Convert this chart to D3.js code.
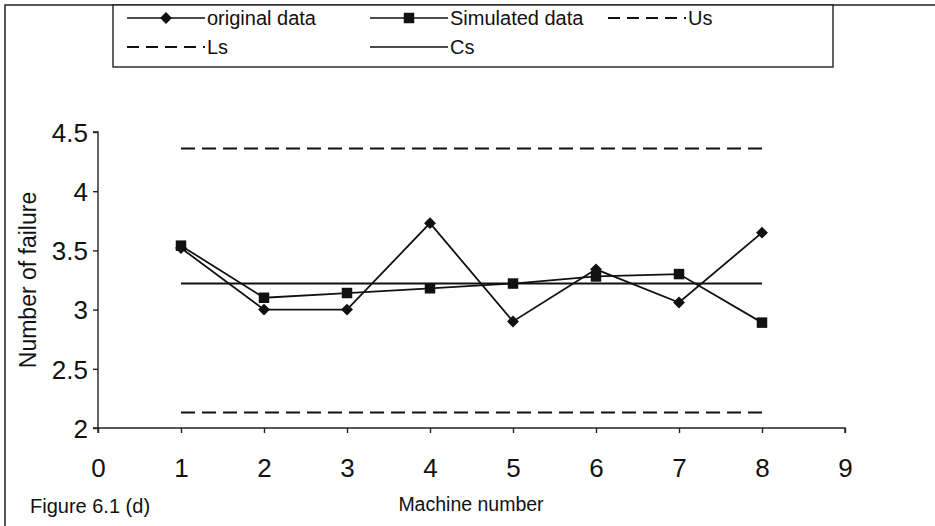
<!DOCTYPE html>
<html>
<head>
<meta charset="utf-8">
<script src="https://cdn.jsdelivr.net/npm/d3@7"></script>
<style>
  body { margin: 0; background: #fff; }
  svg text { font-family: "Liberation Sans", Arial, sans-serif; fill: #111; }
</style>
</head>
<body>
<div id="chart"></div>
<script>
// ======= DATA =======
const machines = [1, 2, 3, 4, 5, 6, 7, 8];
const originalData = [3.52, 3.0, 3.0, 3.73, 2.9, 3.34, 3.06, 3.65];
const simulatedData = [3.54, 3.10, 3.14, 3.18, 3.22, 3.28, 3.30, 2.89];
const usLimit = 4.36;   // upper
const lsLimit = 2.13;   // lower
const csLine = 3.22;    // centre
const xTicks = [0, 1, 2, 3, 4, 5, 6, 7, 8, 9];
const yTicks = [2, 2.5, 3, 3.5, 4, 4.5];

// ======= SVG SETUP =======
const width = 935, height = 526;
const svg = d3.select("#chart").append("svg")
  .attr("width", width).attr("height", height);

const x = d3.scaleLinear().domain([0, 9]).range([98, 845]);
const y = d3.scaleLinear().domain([2, 4.5]).range([428, 132]);

// outer frame (only top and left survive in the scan)
svg.append("path")
  .attr("d", `M5,${height} L5,5 L${width},5`)
  .attr("fill", "none").attr("stroke", "#222").attr("stroke-width", 1.5);

// ======= AXES =======
const xAxis = d3.axisBottom(x).tickValues(xTicks).tickSize(5).tickFormat(d3.format("d"));
const yAxis = d3.axisLeft(y).tickValues(yTicks).tickSize(5).tickFormat(d => d);

const gx = svg.append("g").attr("transform", `translate(0,${y(2)})`).call(xAxis);
gx.select(".domain").attr("d", `M${x(0)},5V0H${x(9)}V5`);
gx.selectAll("text").attr("dy", 0).attr("y", 49).style("font-size", "26px");

const gy = svg.append("g").attr("transform", `translate(${x(0)},0)`).call(yAxis);
gy.select(".domain").attr("d", `M-5,${y(4.5)}H0V${y(2)}H-5`);
gy.selectAll("text").attr("x", -10).attr("dy", "0.36em").style("font-size", "26px");

svg.selectAll(".domain, .tick line").attr("stroke", "#222").attr("stroke-width", 1.4);

// axis titles
svg.append("text")
  .attr("transform", `translate(36,${y(3.25)}) rotate(-90)`)
  .attr("text-anchor", "middle")
  .style("font-size", "23px")
  .text("Number of failure");

svg.append("text")
  .attr("x", 471).attr("y", 511)
  .attr("text-anchor", "middle")
  .style("font-size", "19.5px")
  .text("Machine number");

svg.append("text")
  .attr("x", 30).attr("y", 513)
  .style("font-size", "20px")
  .text("Figure 6.1 (d)");

// ======= LIMIT LINES =======
const hLine = (v, dash) => svg.append("line")
  .attr("x1", x(1)).attr("x2", x(8))
  .attr("y1", y(v)).attr("y2", y(v))
  .attr("stroke", "#111").attr("stroke-width", 2)
  .attr("stroke-dasharray", dash);

hLine(usLimit, "14,7");
hLine(lsLimit, "14,7");
hLine(csLine, null);

// ======= SERIES =======
const line = d3.line().x((d, i) => x(machines[i])).y(d => y(d));

svg.append("path").datum(simulatedData)
  .attr("d", line).attr("fill", "none")
  .attr("stroke", "#111").attr("stroke-width", 1.8);

svg.append("path").datum(originalData)
  .attr("d", line).attr("fill", "none")
  .attr("stroke", "#111").attr("stroke-width", 1.8);

const diamond = d3.symbol().type(d3.symbolDiamond2).size(90);
const square = d3.symbol().type(d3.symbolSquare).size(110);

svg.selectAll(".sim-pt").data(simulatedData).enter()
  .append("path").attr("class", "sim-pt")
  .attr("d", square)
  .attr("transform", (d, i) => `translate(${x(machines[i])},${y(d)})`)
  .attr("fill", "#111");

svg.selectAll(".orig-pt").data(originalData).enter()
  .append("path").attr("class", "orig-pt")
  .attr("d", diamond)
  .attr("transform", (d, i) => `translate(${x(machines[i])},${y(d)})`)
  .attr("fill", "#111");

// ======= LEGEND =======
const legend = svg.append("g");
legend.append("rect")
  .attr("x", 113).attr("y", 5).attr("width", 720).attr("height", 62)
  .attr("fill", "#fff").attr("stroke", "#222").attr("stroke-width", 1.4);

const legendItems = [
  { label: "original data", x: 127, y: 18, marker: "diamond", dash: null },
  { label: "Simulated data", x: 370, y: 18, marker: "square", dash: null },
  { label: "Us", x: 608, y: 18, marker: null, dash: "12,7" },
  { label: "Ls", x: 127, y: 47, marker: null, dash: "12,7" },
  { label: "Cs", x: 370, y: 47, marker: null, dash: null }
];
const legW = 78;

legendItems.forEach(it => {
  legend.append("line")
    .attr("x1", it.x).attr("x2", it.x + legW)
    .attr("y1", it.y).attr("y2", it.y)
    .attr("stroke", "#111").attr("stroke-width", it.dash ? 2.2 : 1.6)
    .attr("stroke-dasharray", it.dash);
  if (it.marker) {
    legend.append("path")
      .attr("d", it.marker === "diamond" ? diamond : square)
      .attr("transform", `translate(${it.x + legW / 2},${it.y})`)
      .attr("fill", "#111");
  }
  legend.append("text")
    .attr("x", it.x + legW + 2).attr("y", it.y)
    .attr("dy", "0.35em")
    .style("font-size", "20px")
    .text(it.label);
});
</script>
</body>
</html>
